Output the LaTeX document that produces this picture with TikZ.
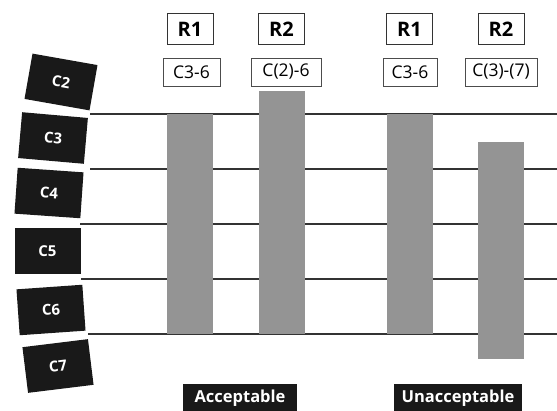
\documentclass[tikz,border=0pt]{standalone}
\usepackage{fontspec}
\setmainfont{Open Sans}
\begin{document}
\begin{tikzpicture}[x=1pt,y=-1pt,
  vert/.style={fill=black!90, text=white, font=\fontsize{15}{17}\selectfont\bfseries,
    minimum width=66pt, minimum height=46pt, inner sep=0pt},
  level/.style={draw=black!80, line width=1.3pt},
  bar/.style={fill=black!42, draw=none, inner sep=0pt},
  rlabel/.style={draw=black!80, line width=1pt, font=\fontsize{20}{24}\selectfont\bfseries,
    minimum width=46pt, minimum height=31pt, inner sep=0pt},
  spanbox/.style={draw=black!70, line width=0.6pt, font=\fontsize{17.5}{20}\selectfont,
    minimum height=28pt, inner sep=0pt},
  verdict/.style={fill=black!90, text=white, font=\fontsize{16.5}{20}\selectfont\bfseries,
    minimum height=28pt, inner sep=0pt}]
\useasboundingbox (0,0) rectangle (557,411);

% intervertebral levels
\coordinate (l1a) at (90,114);  \coordinate (l1b) at (557,114);
\coordinate (l2a) at (90,169);  \coordinate (l2b) at (557,169);
\coordinate (l3a) at (80,224);  \coordinate (l3b) at (557,224);
\coordinate (l4a) at (81,279);  \coordinate (l4b) at (557,279);
\coordinate (l5a) at (88,334);  \coordinate (l5b) at (557,334);
\foreach \i in {1,...,5} \draw[level] (l\i a) -- (l\i b);

% vertebrae
\node[vert, rotate=-10] (c2) at (61,82) {C2};
\node[vert, rotate=-5]  (c3) at (53,138) {C3};
\node[vert, rotate=-4]  (c4) at (49,193) {C4};
\node[vert]             (c5) at (47.5,251) {C5};
\node[vert, rotate=4]   (c6) at (51,310) {C6};
\node[vert, rotate=7]   (c7) at (58,366) {C7};

% fusion ranges
\node[bar, minimum width=46pt, minimum height=220pt] (b1) at (190,224) {};
\node[bar, minimum width=46pt, minimum height=243pt] (b2) at (282,212.5) {};
\node[bar, minimum width=46pt, minimum height=220pt] (b3) at (410,224) {};
\node[bar, minimum width=46pt, minimum height=217pt] (b4) at (501,250.5) {};

% headers
\node[rlabel] (r1a) at (190,29.5) {R1};
\node[rlabel] (r2a) at (281.5,29.5) {R2};
\node[rlabel] (r1b) at (409.5,29.5) {R1};
\node[rlabel] (r2b) at (501,29.5) {R2};

\node[spanbox, minimum width=57pt] (s1) at (191.5,72) {C3-6};
\node[spanbox, minimum width=70pt] (s2) at (286,72) {C(2)-6};
\node[spanbox, minimum width=54pt] (s3) at (410,72) {C3-6};
\node[spanbox, minimum width=72pt] (s4) at (501,72) {C(3)-(7)};

% verdicts
\node[verdict, minimum width=114pt, anchor=north] (ok) at (240,384) {Acceptable};
\node[verdict, minimum width=128pt, anchor=north] (no) at (458,384) {Unacceptable};
\end{tikzpicture}
\end{document}
